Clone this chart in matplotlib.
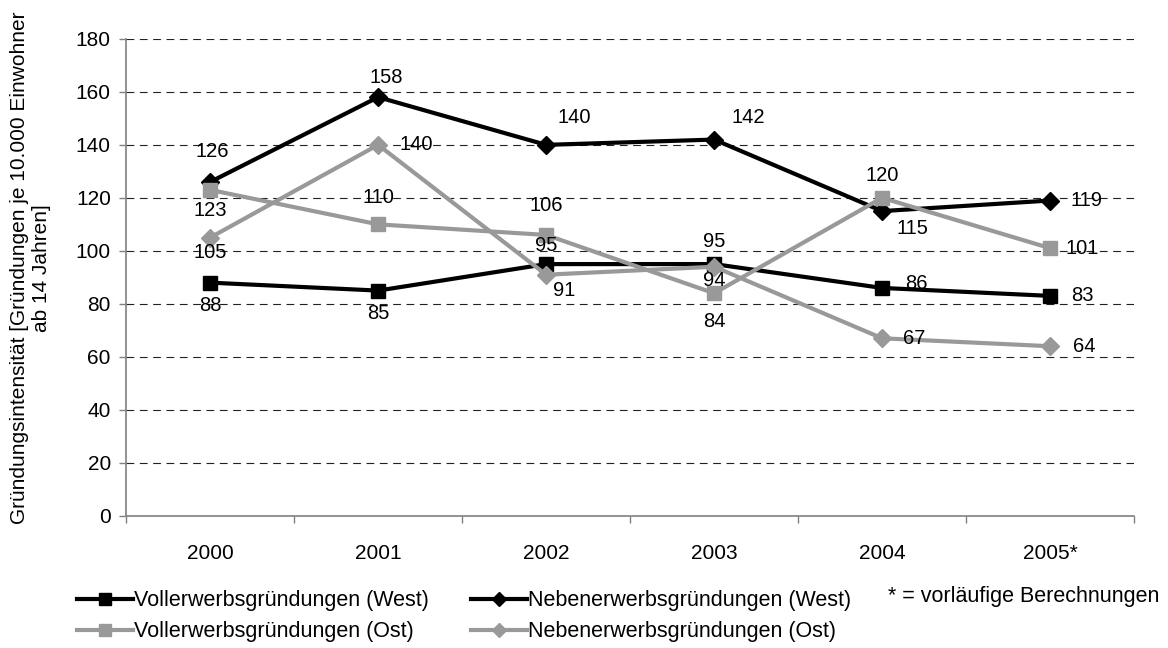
import matplotlib
matplotlib.use("Agg")
import matplotlib.pyplot as plt
from matplotlib.lines import Line2D

plt.rcParams["font.family"] = ["Liberation Sans", "DejaVu Sans"]

years = ["2000", "2001", "2002", "2003", "2004", "2005*"]
voll_west = [88, 85, 95, 95, 86, 83]
neben_west = [126, 158, 140, 142, 115, 119]
voll_ost = [123, 110, 106, 84, 120, 101]
neben_ost = [105, 140, 91, 94, 67, 64]

GRAY = "#999999"
AXIS = "#808080"
# label offsets (pixels) per point
off_vw = [(0, -23), (0, -23), (0, 19), (0, 23), (34, 4), (32, 0)]
off_nw = [(2, 30), (8, 20), (28, 27), (34, 22), (30, -17), (36, 0)]
off_vo = [(0, -21), (0, 27), (0, 29), (0, -28), (0, 22), (32, 0)]
off_no = [(0, -15), (38, 0), (18, -16), (0, -14), (32, 0), (34, 0)]

fig = plt.figure(figsize=(11.68, 6.48), dpi=100)
ax = fig.add_axes([0.108, 0.204, 0.863, 0.736])
x = list(range(len(years)))

series = [
    (voll_west, "black", "s", "Vollerwerbsgründungen (West)", off_vw),
    (neben_west, "black", "D", "Nebenerwerbsgründungen (West)", off_nw),
    (voll_ost, GRAY, "s", "Vollerwerbsgründungen (Ost)", off_vo),
    (neben_ost, GRAY, "D", "Nebenerwerbsgründungen (Ost)", off_no),
]
for vals, col, mk, lab, offs in series:
    ax.plot(x, vals, color=col, lw=3, marker=mk, ms=10 if mk == "s" else 9.5,
            mec=col, mfc=col, zorder=3)
    for xi, v, (dx, dy) in zip(x, vals, offs):
        ax.annotate(str(v), (xi, v), xytext=(dx, dy), textcoords="offset pixels",
                    ha="center", va="center", fontsize=14.5, color="black", zorder=4)

ax.set_xlim(-0.5, 5.5)
ax.set_ylim(0, 180)
ax.set_yticks(range(0, 181, 20))
ax.set_xticks(x)
ax.set_xticklabels(years)
ax.set_xticks([i - 0.5 for i in range(7)], minor=True)
ax.tick_params(axis="x", which="major", length=0, pad=20, labelsize=15)
ax.tick_params(axis="x", which="minor", length=5, width=1, direction="out", color=AXIS)
ax.tick_params(axis="y", length=5, width=1, direction="out", labelsize=15, color=AXIS, pad=6)
ax.yaxis.grid(True, color="#222222", ls=(0, (7, 5)), lw=0.8)
ax.set_axisbelow(True)
for s in ("top", "right"):
    ax.spines[s].set_visible(False)
for s in ("left", "bottom"):
    ax.spines[s].set_color(AXIS)
    ax.spines[s].set_linewidth(1.2)
ax.set_ylabel("Gründungsintensität [Gründungen je 10.000 Einwohner\nab 14 Jahren]",
              fontsize=15, va="center", linespacing=1.15)
ax.yaxis.set_label_coords(-0.095, 0.52)

handles = [Line2D([], [], color=c, lw=3, marker=m, ms=9 if m == "s" else 7.5, mec=c, mfc=c)
           for _, c, m, _, _ in series]
labels = [s[3] for s in series]
order = [0, 2, 1, 3]
fig.legend([handles[i] for i in order], [labels[i] for i in order], ncol=2,
           loc="center left", bbox_to_anchor=(0.066, 0.049), frameon=False,
           fontsize=15.5, handlelength=2.6, handletextpad=0.05, columnspacing=1.95,
           labelspacing=0.45, borderpad=0, borderaxespad=0)
fig.text(0.76, 0.08, "* = vorläufige Berechnungen", fontsize=15.5, va="center")

fig.savefig("out.png", dpi=100)
